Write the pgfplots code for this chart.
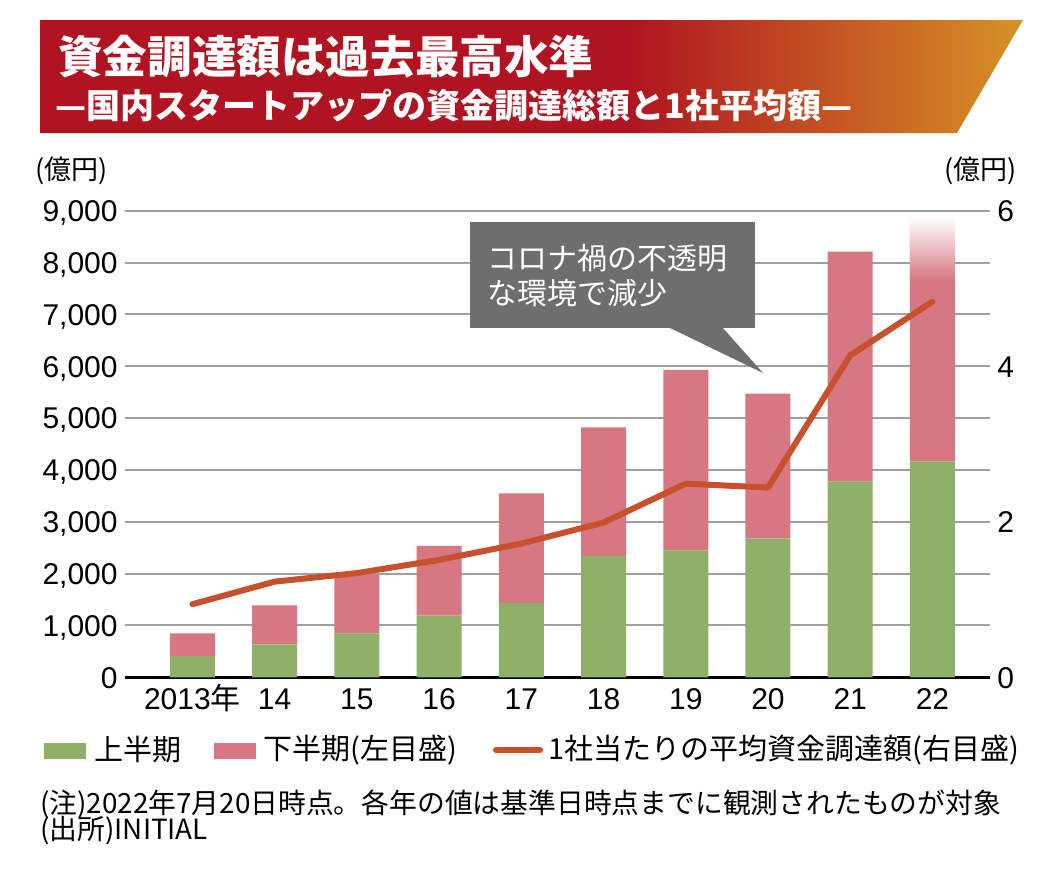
\documentclass[border=0pt]{standalone}
\usepackage{fontspec}
\usepackage{pgfplots}
\pgfplotsset{compat=1.18}
\setmainfont{Liberation Sans}
\newfontfamily\jp{Noto Sans CJK JP}
\definecolor{bred}{RGB}{176,20,32}
\definecolor{borange}{RGB}{214,146,38}
\definecolor{gbar}{RGB}{143,176,104}
\definecolor{pbar}{RGB}{214,119,130}
\definecolor{lred}{RGB}{200,80,45}
\definecolor{gridc}{RGB}{160,160,160}
\definecolor{bubble}{RGB}{110,110,110}
\pgfdeclarehorizontalshading{banner}{100bp}{color(0bp)=(bred); color(55bp)=(bred); color(75bp)=(borange); color(100bp)=(borange)}
\begin{document}
\begin{tikzpicture}
\begin{scope}[x=0.5pt,y=-0.5pt]
\useasboundingbox (0,0) rectangle (1040,878);
\shade[shading=banner] (40,20) -- (1023,20) -- (957,133) -- (40,133) -- cycle;
\node[anchor=west, inner sep=0, text=white, font=\jp\bfseries\fontsize{22.3pt}{22.3pt}\selectfont] at (58,57) {資金調達額は過去最高水準};
\node[anchor=west, inner sep=0, text=white, font=\jp\bfseries\fontsize{17pt}{17pt}\selectfont] at (55,106) {—国内スタートアップの資金調達総額と1社平均額—};
\node[anchor=west, inner sep=0, font=\jp\fontsize{13.5pt}{13.5pt}\selectfont] at (35,171) {(億円)};
\node[anchor=east, inner sep=0, font=\jp\fontsize{13.5pt}{13.5pt}\selectfont] at (1017,171) {(億円)};
\end{scope}

\begin{axis}[
  at={(62.5pt,-338.65pt)}, anchor=south west, scale only axis,
  width=432.5pt, height=233.3pt,
  xmin=-0.82, xmax=9.70, ymin=0, ymax=9000,
  ybar stacked, bar width=22.5pt,
  axis x line*=bottom, axis y line*=left,
  x axis line style={-, black, line width=1.3pt},
  y axis line style={draw=none},
  major tick length=0pt,
  xtick={0,...,9},
  xticklabels={2013{\jp 年},14,15,16,17,18,19,20,21,22},
  ytick={0,1000,...,9000},
  ymajorgrids, grid style={gridc, line width=1pt},
  tick label style={font=\fontsize{15pt}{15pt}\selectfont},
  xticklabel style={anchor=base, inner sep=0pt, yshift=-15.85pt},
  yticklabel style={anchor=base east, inner sep=0pt, xshift=-3.5pt, yshift=-5.4pt},
  /pgf/number format/.cd, 1000 sep={,}, assume math mode=true
]
\addplot[fill=gbar, draw=none] coordinates {(0,410) (1,637) (2,849) (3,1196) (4,1433) (5,2344) (6,2450) (7,2681) (8,3773) (9,4159)};
\addplot[fill=pbar, draw=none] coordinates {(0,439) (1,752) (2,1138) (3,1337) (4,2116) (5,2479) (6,3478) (7,2790) (8,4437) (9,4691)};
\end{axis}

\begin{axis}[
  at={(62.5pt,-338.65pt)}, anchor=south west, scale only axis,
  width=432.5pt, height=233.3pt,
  xmin=-0.82, xmax=9.70, ymin=0, ymax=6,
  axis x line=none, axis y line*=right,
  y axis line style={draw=none},
  major tick length=0pt,
  ytick={0,2,4,6},
  tick label style={font=\fontsize{15pt}{15pt}\selectfont},
  yticklabel style={anchor=base west, inner sep=0pt, xshift=3.5pt, yshift=-5.4pt},
  /pgf/number format/.cd, assume math mode=true
]
% fade at the top of the 2022 bar (left scale 7650..8850 = right scale 5.1..5.9)
\fill[top color=white, bottom color=pbar] (axis cs:8.7263,5.1) rectangle (axis cs:9.2737,5.92);
\addplot[lred, line width=3pt, line cap=round, line join=round] coordinates {(0,0.94) (1,1.23) (2,1.34) (3,1.51) (4,1.72) (5,1.99) (6,2.49) (7,2.44) (8,4.14) (9,4.83)};
\end{axis}

\begin{scope}[x=0.5pt,y=-0.5pt]
\fill[bubble] (470,222) rectangle (755,328);
\fill[bubble] (668,327) -- (722,327) -- (763,373) -- cycle;
\node[anchor=west, inner sep=0, text=white, font=\jp\fontsize{15pt}{15pt}\selectfont] at (487,258) {コロナ禍の不透明};
\node[anchor=west, inner sep=0, text=white, font=\jp\fontsize{15pt}{15pt}\selectfont] at (487,293) {な環境で減少};
\fill[gbar] (44,743) rectangle (86,759);
\node[anchor=west, inner sep=0, font=\jp\fontsize{14.5pt}{14.5pt}\selectfont] at (94,750) {上半期};
\fill[pbar] (214,743) rectangle (256,759);
\node[anchor=west, inner sep=0, font=\jp\fontsize{14.5pt}{14.5pt}\selectfont] at (263,750) {下半期(左目盛)};
\draw[lred, line width=3pt, line cap=round] (496,750) -- (540,750);
\node[anchor=west, inner sep=0, font=\jp\fontsize{14.5pt}{14.5pt}\selectfont] at (548,750) {1社当たりの平均資金調達額(右目盛)};
\node[anchor=base west, inner sep=0, font=\jp\fontsize{13.9pt}{13.9pt}\selectfont] at (40,813) {(注)2022年7月20日時点。各年の値は基準日時点までに観測されたものが対象};
\node[anchor=base west, inner sep=0, font=\jp\fontsize{13.9pt}{13.9pt}\selectfont] at (40,839) {(出所)INITIAL};
\end{scope}
\end{tikzpicture}
\end{document}
